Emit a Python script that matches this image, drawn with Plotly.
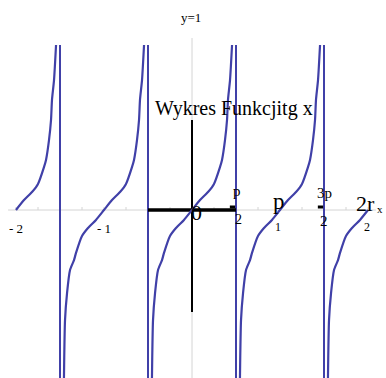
import plotly.graph_objects as go

# ---- data (x in multiples of pi, y = tg x) ----
branch_m2_x = [-2.0, -1.909, -1.818, -1.75, -1.682, -1.659, -1.625, -1.602, -1.591, -1.568, -1.545]
branch_m2_y = [0.0, 0.33, 0.6, 0.87, 1.43, 1.67, 2.33, 3.0, 3.67, 4.33, 5.5]

branch_m1_x = [-1.455, -1.443, -1.42, -1.386, -1.341, -1.318, -1.25, -1.182, -1.091, -1.0,
               -0.909, -0.818, -0.75, -0.682, -0.659, -0.625, -0.602, -0.591, -0.568, -0.545]
branch_m1_y = [-5.6, -3.67, -2.77, -2.0, -1.67, -1.43, -0.87, -0.6, -0.33, 0.0,
               0.33, 0.6, 0.87, 1.43, 1.67, 2.33, 3.0, 3.67, 4.33, 5.5]

branch_0_x = [-0.455, -0.443, -0.42, -0.386, -0.341, -0.318, -0.25, -0.182, -0.091, 0.0,
              0.091, 0.182, 0.25, 0.318, 0.341, 0.375, 0.398, 0.409, 0.432, 0.455]
branch_0_y = [-5.6, -3.67, -2.77, -2.0, -1.67, -1.43, -0.87, -0.6, -0.33, 0.0,
              0.33, 0.6, 0.87, 1.43, 1.67, 2.33, 3.0, 3.67, 4.33, 5.5]

branch_p1_x = [0.545, 0.557, 0.58, 0.614, 0.659, 0.682, 0.75, 0.818, 0.909, 1.0,
               1.091, 1.182, 1.25, 1.318, 1.341, 1.375, 1.398, 1.409, 1.432, 1.455]
branch_p1_y = [-5.6, -3.67, -2.77, -2.0, -1.67, -1.43, -0.87, -0.6, -0.33, 0.0,
               0.33, 0.6, 0.87, 1.43, 1.67, 2.33, 3.0, 3.67, 4.33, 5.5]

branch_p2_x = [1.545, 1.557, 1.58, 1.614, 1.659, 1.682, 1.75, 1.818, 1.909, 2.0]
branch_p2_y = [-5.6, -3.67, -2.77, -2.0, -1.67, -1.43, -0.87, -0.6, -0.33, 0.0]

asymptotes_x = [-1.5, -0.5, 0.5, 1.5]
asymptote_top = 5.5
asymptote_bottom = -5.6

minor_ticks = [-2.0, -1.75, -1.5, -1.25, -1.0, -0.75, -0.5, -0.25, 0.25, 0.5,
               0.75, 1.0, 1.25, 1.5, 1.75, 2.0]

# labels: (text, px, py, size)
labels = [
    ("y=1", 191, 17, 13),
    ("Wykres Funkcjitg x", 234, 108, 20),
    ("- 2", 16, 228, 13),
    ("- 1", 104, 228, 13),
    ("0", 196, 212, 22),
    ("p", 237, 191, 15),
    ("2", 238, 219, 14),
    ("p", 279, 201, 23),
    ("1", 278, 227, 12),
    ("3p", 324, 193, 15),
    ("2", 324, 221, 15),
    ("2r", 365, 203, 22),
    ("2", 367, 227, 12),
    ("x", 380, 209, 11),
]

W, H = 386, 378
X0PX, UPX = 192, 88.0   # pixel of x=0, px per unit
Y0PX, VPX = 210, 30.0   # pixel of y=0, px per unit

BLUE = "#4040a8"
GRAY = "#d4d4d4"
SERIF = "Liberation Serif, Times New Roman, serif"

fig = go.Figure()

# gray axes
fig.add_trace(go.Scatter(x=[-2.09, 2.09], y=[0, 0], mode="lines",
                         line=dict(color=GRAY, width=1), hoverinfo="skip"))
fig.add_trace(go.Scatter(x=[0, 0], y=[(Y0PX - 38) / VPX, asymptote_bottom], mode="lines",
                         line=dict(color=GRAY, width=1), hoverinfo="skip"))
tx, ty = [], []
for t in minor_ticks:
    tx += [t, t, None]
    ty += [0, 0.1, None]
fig.add_trace(go.Scatter(x=tx, y=ty, mode="lines", line=dict(color=GRAY, width=1),
                         hoverinfo="skip"))

# asymptotes
for a in asymptotes_x:
    fig.add_trace(go.Scatter(x=[a, a], y=[asymptote_top, asymptote_bottom], mode="lines",
                             line=dict(color=BLUE, width=2), hoverinfo="skip"))

# black axes pieces
fig.add_trace(go.Scatter(x=[-0.5, 0.5], y=[0, 0], mode="lines",
                         line=dict(color="black", width=3.5), hoverinfo="skip"))
fig.add_trace(go.Scatter(x=[0, 0], y=[3.0, -3.4], mode="lines",
                         line=dict(color="black", width=2), hoverinfo="skip"))
fig.add_trace(go.Scatter(x=[0.43, 0.49, None, 1.43, 1.49], y=[0.1, 0.1, None, 0.1, 0.1],
                         mode="lines", line=dict(color="black", width=3), hoverinfo="skip"))

# tangent branches
for bx, by in [(branch_m2_x, branch_m2_y), (branch_m1_x, branch_m1_y),
               (branch_0_x, branch_0_y), (branch_p1_x, branch_p1_y),
               (branch_p2_x, branch_p2_y)]:
    fig.add_trace(go.Scatter(x=bx, y=by, mode="lines",
                             line=dict(color=BLUE, width=2.2, shape="spline", smoothing=0.6),
                             hoverinfo="skip"))

ann = []
for text, px, py, size in labels:
    ann.append(dict(text=text, x=px / W, y=1 - py / H, xref="paper", yref="paper",
                    xanchor="center", yanchor="middle", showarrow=False,
                    font=dict(family=SERIF, size=size, color="black")))

fig.update_layout(
    width=W, height=H,
    margin=dict(l=0, r=0, t=0, b=0),
    paper_bgcolor="white", plot_bgcolor="white",
    showlegend=False,
    xaxis=dict(range=[-X0PX / UPX, (W - X0PX) / UPX], visible=False, fixedrange=True),
    yaxis=dict(range=[(Y0PX - H) / VPX, Y0PX / VPX], visible=False, fixedrange=True),
    annotations=ann,
)

fig.write_html("out.html", config={"displayModeBar": False},
               post_script="document.body.style.margin='0';document.body.style.overflow='hidden';")
